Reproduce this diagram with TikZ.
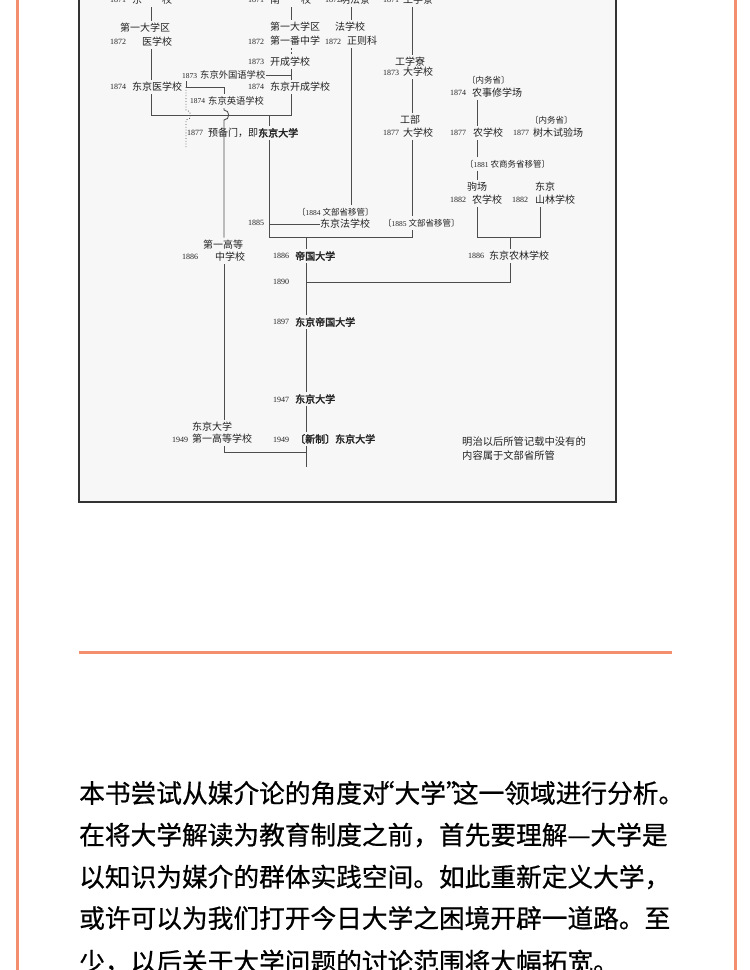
\documentclass[tikz,border=0pt]{standalone}
\usepackage{fontspec}
\setmainfont{Liberation Serif}
\newfontfamily\cjk{Noto Sans CJK SC}
\newfontfamily\cjkb[FakeBold=2.5]{Noto Sans CJK SC}
\newfontfamily\cjkbody[FakeBold=0.7]{Noto Sans CJK SC}
\newfontfamily\yrfont{Liberation Serif}
\newcommand\yrs[1]{{\yrfont\fontsize{7.5}{9}\selectfont #1}}
\definecolor{orl}{HTML}{F38E6E}
\definecolor{boxfill}{HTML}{F7F7F7}
\definecolor{boxline}{HTML}{333333}
\definecolor{linec}{HTML}{4D4D4D}
\definecolor{txt}{HTML}{222222}
\tikzset{
  base/.style={anchor=west, inner xsep=0pt, inner ysep=2.5pt, text=txt},
  yr/.style={base, font=\yrfont\fontsize{8}{9}\selectfont},
  nm/.style={base, font=\cjk\fontsize{10}{12}\selectfont},
  nms/.style={base, font=\cjk\fontsize{9.3}{11}\selectfont},
  bnm/.style={base, font=\cjkb\fontsize{10}{12}\selectfont},
  lbl/.style={base, font=\cjk\fontsize{8.5}{10}\selectfont},
  note/.style={base, font=\cjk\fontsize{10.3}{12}\selectfont},
  conn/.style={draw=linec, line width=0.9pt},
  dotconn/.style={draw=linec, line width=0.8pt, dotted},
  dashconn/.style={draw=linec, line width=0.9pt, dash pattern=on 2pt off 1.5pt},
  body/.style={anchor=west, inner sep=0pt, font=\cjkbody\fontsize{25.7}{30}\selectfont, text=black},
  orline/.style={draw=orl, line width=3pt},
}
\begin{document}
\begin{tikzpicture}[x=1pt,y=-1pt]
\useasboundingbox (0,0) rectangle (750,970);
\clip (0,0) rectangle (750,970);
\fill[white] (0,0) rectangle (750,970);
% page decoration
\draw[orline] (17.5,-5) -- (17.5,975);
\draw[orline] (735,-5) -- (735,975);
\draw[orline] (79,652) -- (672,652);
% diagram box
\draw[draw=boxline, fill=boxfill, line width=1.2pt] (79,-10) rectangle (616,502);

% columns and levels
\coordinate (cA) at (151,0);
\coordinate (cB) at (186,0);
\coordinate (cC) at (224,0);
\coordinate (cD) at (269,0);
\coordinate (cE) at (291,0);
\coordinate (cF) at (306,0);
\coordinate (cG) at (351,0);
\coordinate (cH) at (412,0);
\coordinate (cI) at (477,0);
\coordinate (cJ) at (510,0);
\coordinate (cK) at (540,0);
\coordinate (jB) at (0,87);
\coordinate (hop1) at (0,110);
\coordinate (hop2) at (0,120);
\coordinate (jA) at (0,115);
\coordinate (jJ) at (0,237);
\coordinate (jL) at (0,282);
\coordinate (jK) at (0,452);
\coordinate (bEnd) at (186,147);
\coordinate (fEnd) at (306,467);

% ---- column A
\node[yr] (a0y) at (110,0) {1871};
\node[nm] (a0) at (132,0) {东\hspace{20pt}校};
\node[nm] (a1) at (120,28) {第一大学区};
\node[yr] (a1y) at (110,42) {1872};
\node[nm] (a2) at (142,42) {医学校};
\node[yr] (a3y) at (110,87) {1874};
\node[nm] (a3) at (132,87) {东京医学校};

% ---- column B / C
\node[yr, font=\yrfont\fontsize{7.5}{9}\selectfont] (b1y) at (182,76) {1873};
\node[nms] (b1) at (200,75) {东京外国语学校};
\node[yr, font=\yrfont\fontsize{7.5}{9}\selectfont] (c1y) at (190,101) {1874};
\node[nms] (c1) at (208,101) {东京英语学校};
\node[nm] (c2) at (203,245) {第一高等};
\node[yr] (c2y) at (182,257) {1886};
\node[nm] (c3) at (215,257) {中学校};
\node[nm] (c4) at (192,427) {东京大学};
\node[yr] (c5y) at (172,440) {1949};
\node[nm] (c5) at (192,439) {第一高等学校};

% ---- column D
\node[yr] (d1y) at (187,133) {1877};
\node[nm] (d1) at (208,133) {预备门，即{\cjkb 东京大学}};

% ---- column E
\node[yr] (e0y) at (248,0) {1871};
\node[nm] (e0) at (270,0) {南\hspace{21pt}校};
\node[nm] (e1) at (270,27) {第一大学区};
\node[yr] (e2y) at (248,42) {1872};
\node[nm] (e2) at (270,41) {第一番中学};
\node[yr] (e3y) at (248,62) {1873};
\node[nm] (e3) at (270,62) {开成学校};
\node[yr] (e4y) at (248,87) {1874};
\node[nm] (e4) at (270,87) {东京开成学校};

% ---- column G
\node[yr] (g0y) at (325,0) {1872};
\node[nm] (g0) at (340,0) {明法寮};
\node[nm] (g1) at (335,27) {法学校};
\node[yr] (g2y) at (325,42) {1872};
\node[nm] (g2) at (347,41) {正则科};
\node[lbl] (g3) at (297,212) {〔\yrs{1884} 文部省移管〕};
\node[yr] (g4y) at (248,223) {1885};
\node[nm] (g4) at (320,224) {东京法学校};

% ---- column H
\node[yr] (h0y) at (383,0) {1871};
\node[nm] (h0) at (403,0) {工学寮};
\node[nm] (h1) at (395,62) {工学寮};
\node[yr] (h2y) at (383,73) {1873};
\node[nm] (h2) at (403,72) {大学校};
\node[nm] (h3) at (400,120) {工部};
\node[yr] (h4y) at (383,133) {1877};
\node[nm] (h4) at (403,133) {大学校};
\node[lbl] (h5) at (383,223) {〔\yrs{1885} 文部省移管〕};

% ---- column F
\node[yr] (f1y) at (273,256) {1886};
\node[bnm] (f1) at (295,256) {帝国大学};
\node[yr] (f0y) at (273,282) {1890};
\node[yr] (f2y) at (273,322) {1897};
\node[bnm] (f2) at (295,322) {东京帝国大学};
\node[yr] (f3y) at (273,400) {1947};
\node[bnm] (f3) at (295,399) {东京大学};
\node[yr] (f4y) at (273,440) {1949};
\node[bnm] (f4) at (295,439) {〔新制〕东京大学};

% ---- columns I / J / K
\node[lbl] (i1) at (467,80) {〔内务省〕};
\node[yr] (i2y) at (450,93) {1874};
\node[nm] (i2) at (472,93) {农事修学场};
\node[yr] (i3y) at (450,133) {1877};
\node[nm] (i3) at (473,133) {农学校};
\node[lbl] (k1) at (530,120) {〔内务省〕};
\node[yr] (k2y) at (513,133) {1877};
\node[nm] (k2) at (533,133) {树木试验场};
\node[lbl] (i4) at (465,164) {〔\yrs{1881} 农商务省移管〕};
\node[nm] (i5) at (467,187) {驹场};
\node[yr] (i6y) at (450,200) {1882};
\node[nm] (i6) at (472,200) {农学校};
\node[nm] (k3) at (535,187) {东京};
\node[yr] (k4y) at (512,200) {1882};
\node[nm] (k4) at (535,200) {山林学校};
\node[yr] (m1y) at (468,256) {1886};
\node[nm] (m1) at (489,256) {东京农林学校};

% ---- note
\node[note] (n1) at (462,442) {明治以后所管记载中没有的};
\node[note] (n2) at (462,456) {内容属于文部省所管};

% ---- connectors
\draw[conn] (cA|-a0.south) -- (cA|-a1.north);
\draw[conn] (cA|-a2.south) -- (cA|-a3.north);
\draw[conn] (cA|-a3.south) -- (cA|-jA) -- (cE|-jA) -- (cE|-e4.south);
\draw[conn] (cE|-e0.south) -- (cE|-e1.north);
\draw[dashconn] (cE|-e2.south) -- (cE|-e3.north);
\draw[conn] (cE|-e3.south) -- (cE|-e4.north);
\draw[conn] (b1.east) -- (cE|-b1.east);
\draw[conn] (cB|-b1y.south) -- (cB|-jB) -- (cC|-jB) -- (cC|-c1.north);
\draw[dotconn] (cB|-jB) -- (cB|-hop1) to[out=0,in=0,looseness=1.6] (cB|-hop2) -- (bEnd);
\draw[conn] (cC|-c1.south) -- (cC|-hop1) to[out=0,in=0,looseness=1.6] (cC|-hop2) -- (cC|-c2.north);
\draw[conn] (cC|-c3.south) -- (cC|-c4.north);
\draw[conn] (cC|-c5.south) -- (cC|-jK) -- (cF|-jK);
\draw[conn] (cD|-jA) -- (cD|-d1.north);
\draw[conn] (cD|-d1.south) -- (cD|-jJ) -- (cH|-jJ) -- (cH|-h5.south);
\draw[conn] (cD|-g4.west) -- (g4.west);
\draw[conn] (cF|-jJ) -- (cF|-f1.north);
\draw[conn] (cG|-g0.south) -- (cG|-g1.north);
\draw[conn] (cG|-g2.south) -- (cG|-g3.north);
\draw[conn] (cH|-h0.south) -- (cH|-h1.north);
\draw[conn] (cH|-h2.south) -- (cH|-h3.north);
\draw[conn] (cH|-h4.south) -- (cH|-h5.north);
\draw[conn] (cF|-f1.south) -- (cF|-f2.north);
\draw[conn] (cF|-f2.south) -- (cF|-f3.north);
\draw[conn] (cF|-f3.south) -- (cF|-f4.north);
\draw[conn] (cF|-f4.south) -- (fEnd);
\draw[conn] (cF|-jL) -- (cJ|-jL) -- (cJ|-m1.south);
\draw[conn] (cI|-i2.south) -- (cI|-i3.north);
\draw[conn] (cI|-i3.south) -- (cI|-i4.north);
\draw[conn] (cI|-i4.south) -- (cI|-i5.north);
\draw[conn] (cI|-i6.south) -- (cI|-jJ) -- (cK|-jJ) -- (cK|-k4.south);
\draw[conn] (cJ|-jJ) -- (cJ|-m1.north);

% ---- body text
\node[body] (p1) at (79,793) {本书尝试从媒介论的角度对\makebox[0.27em][r]{“}大学\makebox[0.27em][l]{”}这一领域进行分析。};
\node[body] (p2) at (79,835) {在将大学解读为教育制度之前，首先要理解—大学是};
\node[body] (p3) at (79,877) {以知识为媒介的群体实践空间。如此重新定义大学，};
\node[body] (p4) at (79,918) {或许可以为我们打开今日大学之困境开辟一道路。至};
\node[body] (p5) at (79,962) {少，以后关于大学问题的讨论范围将大幅拓宽。};
\end{tikzpicture}
\end{document}
